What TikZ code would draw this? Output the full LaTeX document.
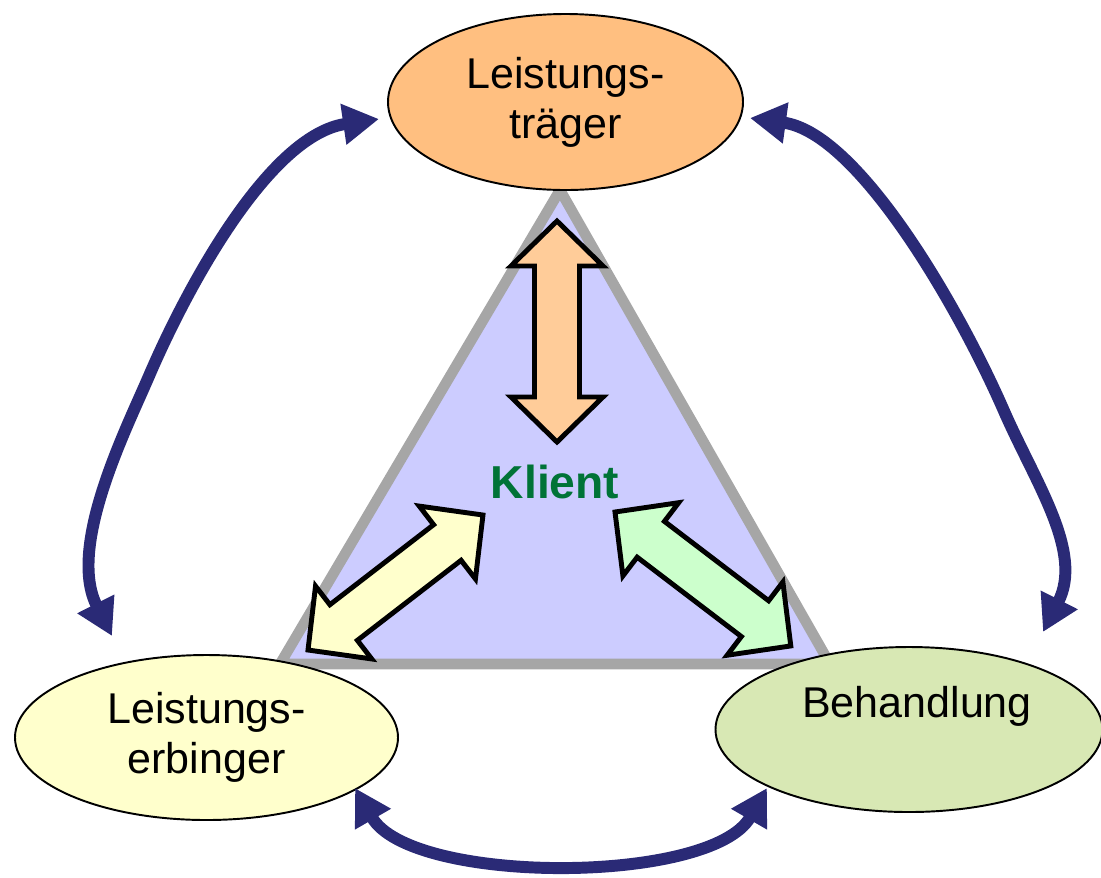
\documentclass[tikz,border=0pt]{standalone}
\usepackage{fontspec}
\setmainfont{Liberation Sans}
\usetikzlibrary{arrows.meta,shapes.geometric}
\definecolor{navy}{RGB}{42,42,118}
\definecolor{triFill}{RGB}{204,204,255}
\definecolor{triLine}{RGB}{166,166,166}
\definecolor{topFill}{RGB}{255,191,128}
\definecolor{leftFill}{RGB}{255,255,204}
\definecolor{rightFill}{RGB}{216,232,180}
\definecolor{arrOrange}{RGB}{255,204,153}
\definecolor{arrYellow}{RGB}{255,255,204}
\definecolor{arrGreen}{RGB}{204,255,204}
\definecolor{klientGreen}{RGB}{0,115,55}
\newcommand{\arrowlen}{221}
\tikzset{
  txt/.style={font=\fontsize{24.5}{28.5}\selectfont, align=center},
  oval/.style={ellipse, draw=black, line width=1.1pt, inner sep=0pt, txt},
  arc/.style={draw=navy, line width=6.8pt, {Triangle[length=0.72cm,width=0.78cm]}-{Triangle[length=0.72cm,width=0.78cm]}},
  blockarrow/.style={draw=black, line width=2.8pt, line join=miter},
  pics/dbl/.style={code={
    \draw[blockarrow, fill=#1] (0,0) -- (45,46) -- (45,22.5) -- (\arrowlen-45,22.5) -- (\arrowlen-45,46)
      -- (\arrowlen,0) -- (\arrowlen-45,-46) -- (\arrowlen-45,-22.5) -- (45,-22.5) -- (45,-46) -- cycle;
  }}
}
\begin{document}
\begin{tikzpicture}[x=0.02cm, y=-0.02cm]
\useasboundingbox (0,0) rectangle (1101,877);
% triangle
\draw[draw=triLine, fill=triFill, line width=6pt, line join=miter] (560,190) -- (830,664) -- (280,664) -- cycle;
% block arrows
\pic[shift={(557,442)}, rotate=90] {dbl=arrOrange};
\pic[shift={(308,650)}, rotate=37.65] {dbl=arrYellow};
\pic[shift={(615,512)}, rotate=-37.3] {dbl=arrGreen};
\node[font=\fontsize{26.3}{30}\selectfont\bfseries, text=klientGreen] (klient) at (555,482) {Klient};
% ellipses
\node[oval, fill=topFill, minimum width=355*0.02cm, minimum height=176*0.02cm] (traeger) at (565.5,102) {Leistungs-\\träger};
\node[oval, fill=leftFill, minimum width=383*0.02cm, minimum height=165*0.02cm] (erbinger) at (206.5,737.5) {Leistungs-\\erbinger};
\node[oval, fill=rightFill, minimum width=387*0.02cm, minimum height=165*0.02cm] (behandlung) at (909,729.5) {};
\node[txt] (behandlungtext) at (917,706) {Behandlung};
% curved arrows
\coordinate (lt) at (379,119);
\coordinate (lb) at (112,636);
\coordinate (lm) at (149,376);
\coordinate (rt) at (750,118);
\coordinate (rm) at (1004,411);
\coordinate (rb) at (1043,632);
\coordinate (bl) at (355,788);
\coordinate (br) at (767,788);
\draw[arc] (lb) .. controls (67,547) and (125.3,431) .. (lm)
               .. controls (188.5,284) and (270,135) .. (lt);
\draw[arc] (rt) .. controls (859,133) and (960,310) .. (rm)
               .. controls (1036,484) and (1083.5,552) .. (rb);
\draw[arc] (bl) .. controls (411,885) and (711,885) .. (br);
\end{tikzpicture}
\end{document}
